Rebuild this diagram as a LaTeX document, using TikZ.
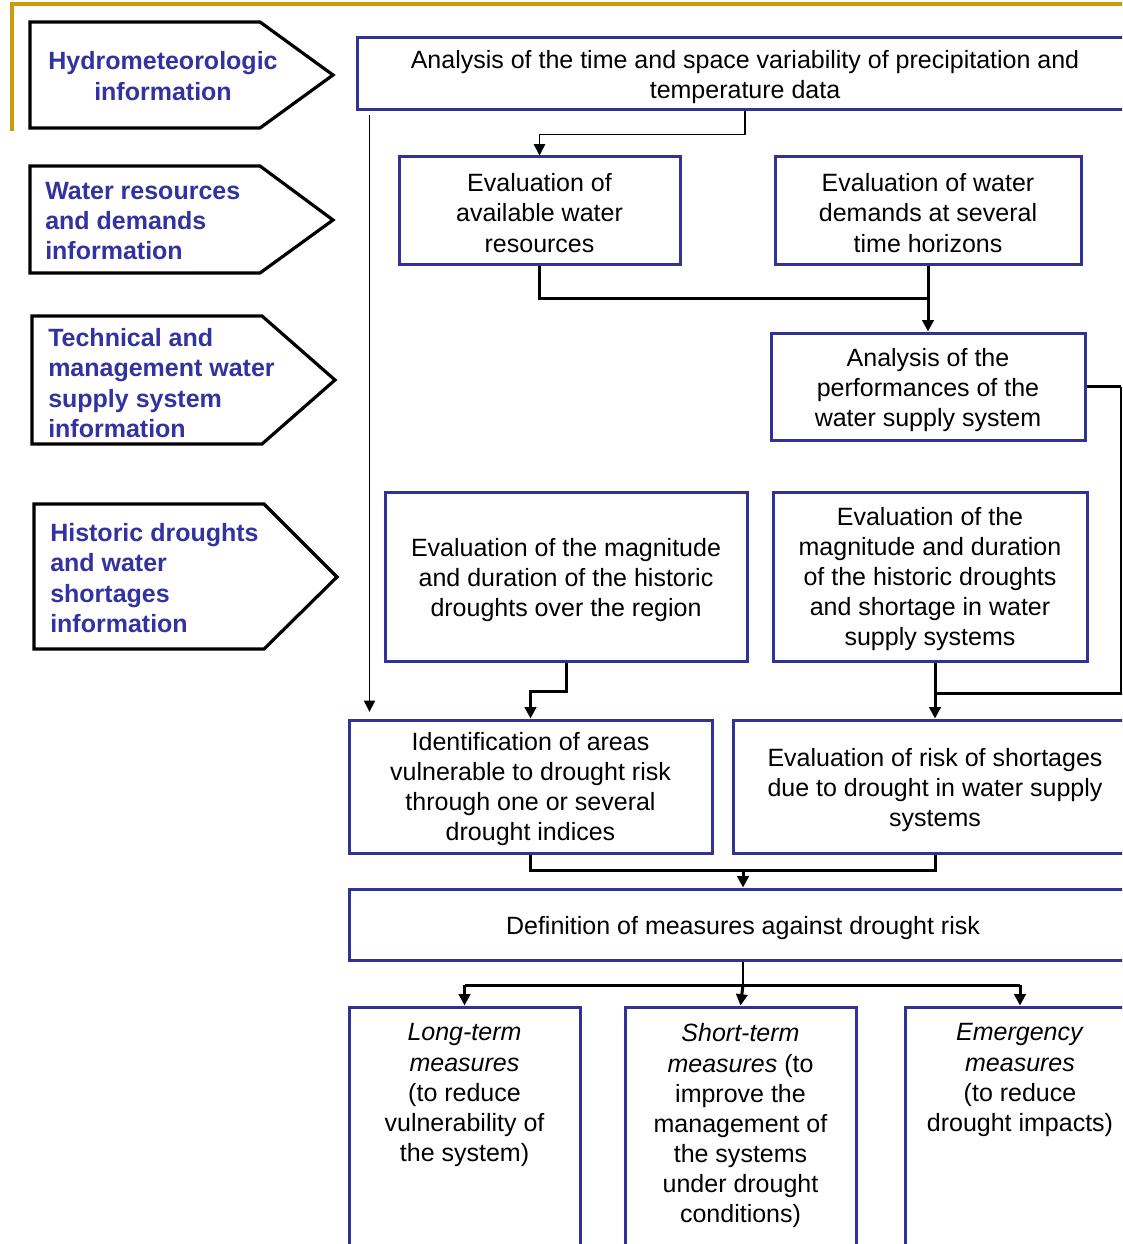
\documentclass[tikz,border=0pt]{standalone}
\usepackage{fontspec}
\setmainfont{Liberation Sans}
\usetikzlibrary{arrows.meta,calc}
\definecolor{boxblue}{RGB}{50,50,150}
\definecolor{lblblue}{RGB}{50,50,160}
\definecolor{goldline}{RGB}{205,155,10}
\newcommand{\bfs}{\fontsize{18.75pt}{22.6pt}\selectfont}
\newcommand{\lfs}{\fontsize{18.75pt}{22.8pt}\selectfont\bfseries}
\tikzset{
  bbox/.style={draw=boxblue, line width=2.25pt, rectangle, inner sep=0pt},
  btxt/.style={font=\bfs, align=center, text=black, inner sep=0pt},
  lbl/.style={font=\lfs, text=lblblue, inner sep=0pt},
  pent/.style={draw=black, line width=2.4pt, line join=miter},
  thinc/.style={draw=black, line width=1.1pt},
  thickc/.style={draw=black, line width=2.25pt},
  tip/.style={-{Triangle[length=8.5pt,width=8.5pt]}},
}
\begin{document}
\begin{tikzpicture}[x=0.75pt,y=-0.75pt]
\useasboundingbox (0,0) rectangle (1122,1244);
\clip (0,0) rectangle (1122,1244);
\fill[white] (0,0) rectangle (1122,1244);
% gold frame lines
\draw[goldline, line width=2.4pt] (12,131) -- (12,4) -- (1130,4);

% left pentagon labels
\draw[pent] (30,22) -- (260,22) -- (333,75) -- (260,128) -- (30,128) -- cycle;
\node[lbl, align=center] (l1) at (163,76) {Hydrometeorologic\\information};
\draw[pent] (30,166) -- (260,166) -- (333,220) -- (260,273) -- (30,273) -- cycle;
\node[lbl, align=left, anchor=west] (l2) at (45,221) {Water resources\\and demands\\information};
\draw[pent] (32,316) -- (262,316) -- (335,380) -- (262,444) -- (32,444) -- cycle;
\node[lbl, align=left, anchor=west] (l3) at (48,383) {Technical and\\management water\\supply system\\information};
\draw[pent] (34,504) -- (264,504) -- (337,577) -- (264,649) -- (34,649) -- cycle;
\node[lbl, align=left, anchor=west] (l4) at (50,578) {Historic droughts\\and water\\shortages\\information};

% boxes
\node[bbox, minimum width=582pt, minimum height=54pt] (top) at (745,74) {};
\node[bbox, minimum width=210.75pt, minimum height=81pt] (avail) at (539.5,211) {};
\node[bbox, minimum width=229.5pt, minimum height=81pt] (demand) at (928,211) {};
\node[bbox, minimum width=235.5pt, minimum height=80.25pt] (perf) at (928,386.5) {};
\node[bbox, minimum width=271.5pt, minimum height=126.75pt] (region) at (566,576.5) {};
\node[bbox, minimum width=235.5pt, minimum height=126.75pt] (wss) at (930,576.5) {};
\node[bbox, minimum width=272.25pt, minimum height=99.75pt] (ident) at (530.5,786.5) {};
\node[bbox, minimum width=303pt, minimum height=99.75pt] (risk) at (935,786.5) {};
\node[bbox, minimum width=591pt, minimum height=53.25pt] (def) at (743,924.5) {};
\node[bbox, minimum width=173.25pt, minimum height=197.25pt] (long) at (464.5,1138.5) {};
\node[bbox, minimum width=173.25pt, minimum height=197.25pt] (short) at (740.5,1138.5) {};
\node[bbox, minimum width=172.5pt, minimum height=197.25pt] (emerg) at (1020,1138.5) {};

% box texts
\node[btxt] (topt) at ([yshift=-2.5pt]top.center)
  {Analysis of the time and space variability of precipitation and\\temperature data};
\node[btxt] (availt) at ([yshift=-1.5pt]avail.center) {Evaluation of\\available water\\resources};
\node[btxt] (demandt) at ([yshift=-1.5pt]demand.center) {Evaluation of water\\demands at several\\time horizons};
\node[btxt] (perft) at ([yshift=-2.5pt]perf.center) {Analysis of the\\performances of the\\water supply system};
\node[btxt] (regiont) at ([yshift=-2.5pt]region.center)
  {Evaluation of the magnitude\\and duration of the historic\\droughts over the region};
\node[btxt] (wsst) at ([yshift=-2pt]wss.center)
  {Evaluation of the\\magnitude and duration\\of the historic droughts\\and shortage in water\\supply systems};
\node[btxt] (identt) at ([yshift=-2pt]ident.center)
  {Identification of areas\\vulnerable to drought risk\\through one or several\\drought indices};
\node[btxt] (riskt) at ([yshift=-2.5pt]risk.center)
  {Evaluation of risk of shortages\\due to drought in water supply\\systems};
\node[btxt] (deft) at ([yshift=-2.5pt]def.center) {Definition of measures against drought risk};
\node[btxt, anchor=north] (longt) at ([yshift=-13.5pt]long.north)
  {\textit{Long-term}\\\textit{measures}\\(to reduce\\vulnerability of\\the system)};
\node[btxt, anchor=north] (shortt) at ([yshift=-13.5pt]short.north)
  {\textit{Short-term}\\\textit{measures} (to\\improve the\\management of\\the systems\\under drought\\conditions)};
\node[btxt, anchor=north] (emergt) at ([yshift=-13.5pt]emerg.north)
  {\textit{Emergency}\\\textit{measures}\\(to reduce\\drought impacts)};

% helper coordinates
\coordinate (rx) at (1121,0);
\coordinate (j2) at (935,693);
\coordinate (j3) at (743,870);
\coordinate (j4) at (743,985);

% connectors
\draw[thinc, tip] (top.south) -- ++(0,23) -| (avail.north);
\draw[thinc, tip] ([xshift=10.5pt,yshift=-3pt]top.south west) -- ([xshift=16.5pt,yshift=5pt]ident.north west);
\draw[thickc] (avail.south) |- ($(demand.south)!0.5!(perf.north)$);
\draw[thickc, tip] (demand.south) -- (perf.north);
\draw[thickc] (perf.east) -- (perf.east -| rx);
\draw[thinc] (perf.east -| rx) -- (rx |- j2);
\draw[thickc] (1130,693) -- (j2);
\draw[thickc, tip] (wss.south -| risk.north) -- (risk.north);
\draw[thickc, tip] (region.south) -- ++(0,29) -| (ident.north);
\draw[thickc] (ident.south) |- (j3) -| (risk.south);
\draw[thickc, tip] (j3) -- (def.north);
\draw[thinc] (def.south) -- (j4);
\draw[thickc] (long.north |- j4) -- (emerg.north |- j4);
\draw[thickc, tip] (long.north |- j4) -- (long.north);
\draw[thickc, tip] (j4) -- (short.north);
\draw[thickc, tip] (emerg.north |- j4) -- (emerg.north);
\end{tikzpicture}
\end{document}
